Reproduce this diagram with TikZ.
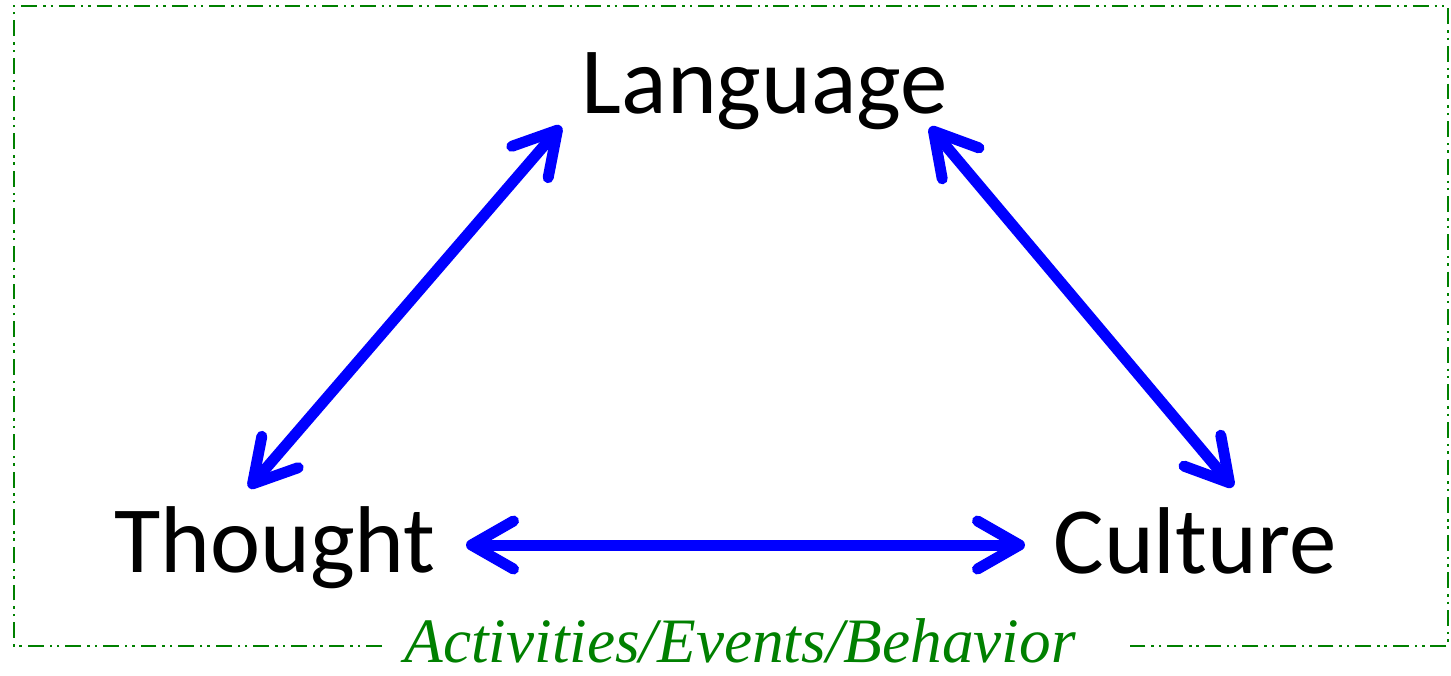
\documentclass[tikz,border=0pt]{standalone}
\usepackage{xcolor}
\usepackage{fontspec}
\setmainfont{Carlito}
\newfontfamily\captionfont{Liberation Serif}
\usepackage{tikz}
\usetikzlibrary{arrows.meta,positioning,calc}
\definecolor{framegreen}{RGB}{0,128,0}
\tikzstyle{concept} = [inner sep=0pt, anchor=base, font=\fontsize{27}{32}\selectfont]
\tikzstyle{link} = [blue, line width=0.11cm, line cap=round, {Straight Barb[length=0.42cm, width=0.48cm, round]}-{Straight Barb[length=0.42cm, width=0.48cm, round]}]
\tikzstyle{frame} = [framegreen, line width=0.7pt, dash pattern=on 4.5pt off 1.7pt on 0.7pt off 1.4pt on 0.7pt off 1.7pt]

\begin{document}
\begin{tikzpicture}
	\useasboundingbox (0,0) rectangle (14.51,-6.75);
	% the three concepts
	\node[concept] (language) at (7.65,-1.13) {Language};
	\node[concept] (thought) at (2.75,-5.72) {Thought};
	\node[concept] (culture) at (11.95,-5.73) {Culture};
	% frame with a gap for the caption
	\draw[frame] (3.82,-6.46) -- (0.14,-6.46) -- (0.14,-0.06) -- (14.48,-0.06) -- (14.48,-6.46) -- (11.28,-6.46);
	\node[anchor=base, inner sep=0pt, text=framegreen, font=\captionfont\itshape\fontsize{18}{22}\selectfont] (activities) at (7.40,-6.62) {Activities/Events/Behavior};
	% arrows
	\draw[link] ($(thought.base)+(-0.26,0.84)$) -- ($(language.base)+(-2.04,-0.13)$);
	\draw[link] ($(language.base)+(1.65,-0.14)$) -- ($(culture.base)+(0.38,0.86)$);
	\draw[link] ($(thought.base)+(1.91,0.27)$) -- ($(culture.base)+(-1.70,0.28)$);
\end{tikzpicture}
\end{document}
